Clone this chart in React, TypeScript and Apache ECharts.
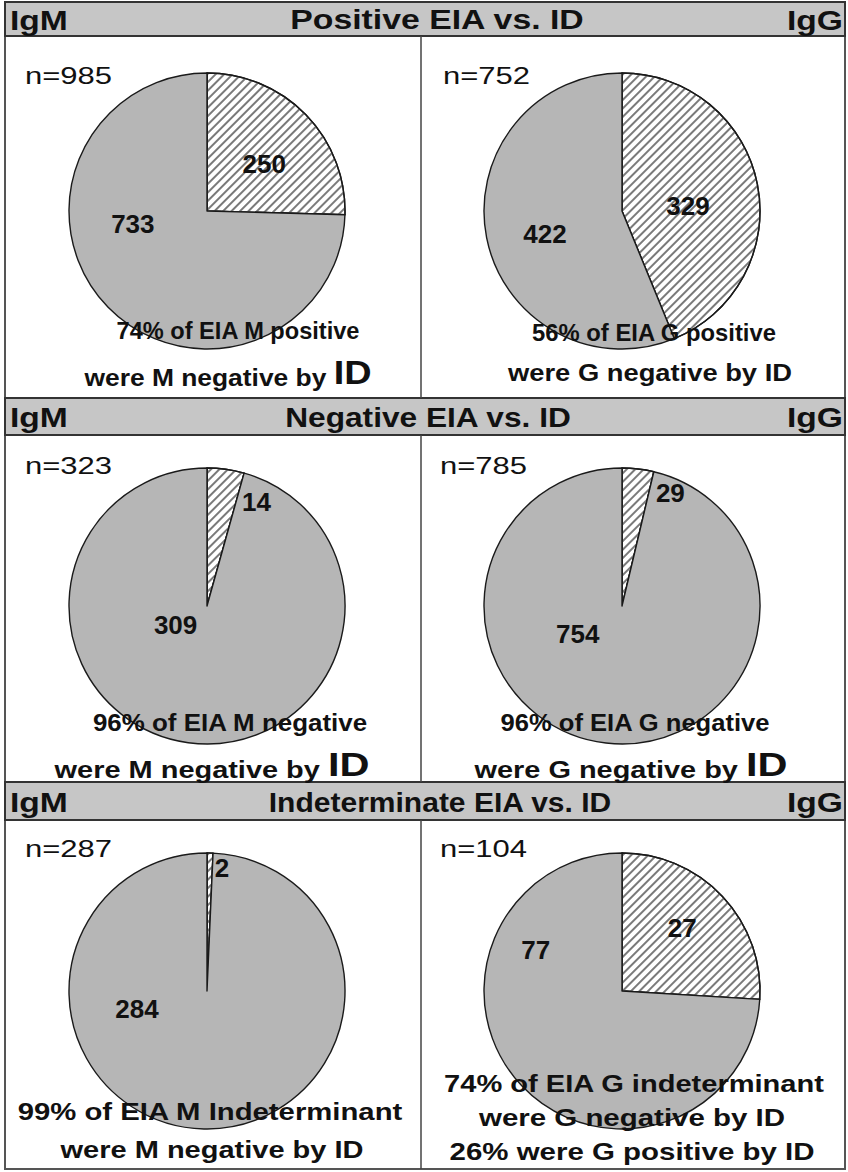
import React, { useEffect, useRef } from 'react';
import * as echarts from 'echarts';

const W = 848;
const H = 1172;

// ---------- data ----------
const sectionTitles = ['Positive EIA vs. ID', 'Negative EIA vs. ID', 'Indeterminate EIA vs. ID'];
const leftTag = 'IgM';
const rightTag = 'IgG';
const totals = [985, 752, 323, 785, 287, 104];
const positiveById = [250, 329, 14, 29, 2, 27]; // hatched slices
const negativeById = [733, 422, 309, 754, 284, 77]; // gray slices
const captionTexts = [
  ['74% of EIA M positive', 'were M negative by ', 'ID'],
  ['56% of EIA G positive', 'were G negative by ID'],
  ['96% of EIA M negative', 'were M negative by ', 'ID'],
  ['96% of EIA G negative', 'were G negative by ', 'ID'],
  ['99% of EIA M Indeterminant', 'were M negative by ID'],
  ['74% of EIA G indeterminant', 'were G negative by ID', '26% were G positive by ID'],
];
const bigIdPanels = [true, false, true, true, false, false];

// ---------- layout ----------
const FONT = '"Liberation Sans", Arial, Helvetica, sans-serif';
const colX = [207, 622];
const rowY = [211, 606, 991];
const R = 138;
const bands = [[2, 36], [398, 435], [782, 820]];
const dividerX = 421;
const titleCenters = [437, 428, 440];
const titleWidths = [295, 287, 344];
const nPos = [[25, 76], [443, 76], [25, 466], [440, 466], [25, 849], [440, 849]];
// label anchor offsets from pie center [hatched, gray]
const labelRel = [
  [[55, -45], [-72, 11]],
  [[63, -4], [-74, 22]],
  [[49, -101], [-31, 16]],
  [[48, -110], [-44, 25]],
  [[15, -120], [-70, 15]],
  [[58, -61], [-84, -43]],
];
// caption lines: [centerX, centerY, targetWidth]
const captionLayout = [
  [[238, 331, 244], [228, 373, 287]],
  [[654, 333, 245], [650, 373, 284]],
  [[230, 723, 275], [212, 765, 315]],
  [[635, 723, 270], [631, 765, 313]],
  [[210, 1112, 386], [212, 1150, 303]],
  [[634, 1084, 381], [632, 1118, 306], [632, 1152, 365]],
];
const captionSize = [23, 23, 23, 23, 24, 24];

let measureCtx: CanvasRenderingContext2D | null = null;
function measure(text: string, size: number, bold: boolean) {
  if (!measureCtx) measureCtx = document.createElement('canvas').getContext('2d');
  measureCtx!.font = `${bold ? 'bold ' : ''}${size}px ${FONT}`;
  return measureCtx!.measureText(text).width;
}

export default function App() {
  const ref = useRef<HTMLDivElement>(null);
  useEffect(() => {
    document.body.style.margin = '0';
    const chart = echarts.init(ref.current!, undefined, { renderer: 'svg', width: W, height: H });

    const hatch = {
      symbol: 'rect',
      symbolSize: 1,
      dashArrayX: [1, 0],
      dashArrayY: [1.1, 3.6],
      rotation: -Math.PI / 4,
      color: '#7a7a7a',
    };

    const series: any[] = [];
    for (let p = 0; p < 6; p++) {
      const cx = colX[p % 2];
      const cy = rowY[Math.floor(p / 2)];
      const vals = [positiveById[p], negativeById[p]];
      const sum = vals[0] + vals[1];
      let acc = 0;
      const data = vals.map((v, k) => {
        const mid = -Math.PI / 2 + 2 * Math.PI * (acc + v / 2) / sum;
        acc += v;
        const ix = cx + Math.cos(mid) * R / 2;
        const iy = cy + Math.sin(mid) * R / 2;
        const [rx, ry] = labelRel[p][k];
        return {
          value: v,
          itemStyle: k === 0 ? { color: '#ffffff', decal: hatch } : { color: '#b6b6b6' },
          label: { offset: [cx + rx - ix, cy + ry - iy] },
        };
      });
      series.push({
        type: 'pie',
        center: [cx, cy],
        radius: R,
        startAngle: 90,
        clockwise: true,
        silent: true,
        emphasis: { disabled: true },
        label: {
          show: true,
          position: 'inside',
          formatter: '{c}',
          fontSize: 26,
          fontWeight: 'bold',
          fontFamily: FONT,
          color: '#111',
        },
        labelLine: { show: false },
        itemStyle: { borderColor: '#1a1a1a', borderWidth: 1.4 },
        data,
      });
    }

    const g: any[] = [];
    // frame
    g.push({ type: 'rect', shape: { x: 5, y: 2, width: 840, height: 1167 }, style: { fill: '#fff', stroke: '#555', lineWidth: 2 }, z: -10 });
    bands.forEach(([y0, y1], i) => {
      g.push({ type: 'rect', shape: { x: 5, y: y0, width: 840, height: y1 - y0 }, style: { fill: '#c6c6c6', stroke: '#333', lineWidth: 2 }, z: -5 });
      const yText = (y0 + y1) / 2 + 1;
      const tagScale = 1.2;
      g.push({ type: 'text', x: 10, y: yText, scaleX: tagScale, z: 50, style: { text: leftTag, font: `bold 28px ${FONT}`, fill: '#111', align: 'left', verticalAlign: 'middle' } });
      g.push({ type: 'text', x: 843, y: yText, scaleX: tagScale, z: 50, style: { text: rightTag, font: `bold 28px ${FONT}`, fill: '#111', align: 'right', verticalAlign: 'middle' } });
      const tw = measure(sectionTitles[i], 28, true);
      g.push({ type: 'text', x: titleCenters[i], y: yText, scaleX: titleWidths[i] / tw, z: 50, style: { text: sectionTitles[i], font: `bold 28px ${FONT}`, fill: '#111', align: 'center', verticalAlign: 'middle' } });
      // divider below band
      const nextTop = i < 2 ? bands[i + 1][0] : 1169;
      g.push({ type: 'line', shape: { x1: dividerX, y1: y1, x2: dividerX, y2: nextTop }, style: { stroke: '#444', lineWidth: 1.5 }, z: -4 });
    });
    // n labels
    totals.forEach((n, p) => {
      const t = `n=${n}`;
      const w = measure(t, 24, false);
      g.push({ type: 'text', x: nPos[p][0], y: nPos[p][1], scaleX: 87 / w, z: 50, style: { text: t, font: `24px ${FONT}`, fill: '#111', align: 'left', verticalAlign: 'middle' } });
    });
    // captions
    captionTexts.forEach((lines, p) => {
      const size = captionSize[p];
      const layout = captionLayout[p];
      const hasBig = bigIdPanels[p];
      const lineTexts = hasBig ? [lines[0], lines[1] + lines[2]] : lines;
      lineTexts.forEach((_, li) => {
        const [cx, cy, tw] = layout[li];
        let styleObj: any;
        let mw: number;
        if (hasBig && li === 1) {
          const big = Math.round(size * 1.45);
          mw = measure(lines[1], size, true) + measure(lines[2], big, true);
          styleObj = {
            text: `{a|${lines[1]}}{b|${lines[2]}}`,
            rich: {
              a: { fontSize: size, fontWeight: 'bold', fontFamily: FONT, fill: '#111', verticalAlign: 'bottom' },
              b: { fontSize: big, fontWeight: 'bold', fontFamily: FONT, fill: '#111', verticalAlign: 'bottom' },
            },
            align: 'center',
            verticalAlign: 'middle',
          };
        } else {
          mw = measure(lineTexts[li], size, true);
          styleObj = { text: lineTexts[li], font: `bold ${size}px ${FONT}`, fill: '#111', align: 'center', verticalAlign: 'middle' };
        }
        g.push({ type: 'text', x: cx, y: cy, scaleX: tw / mw, z: 100, style: styleObj });
      });
    });

    chart.setOption({
      animation: false,
      backgroundColor: '#ffffff',
      series,
      graphic: { elements: g },
    });
    return () => chart.dispose();
  }, []);
  return <div ref={ref} style={{ position: 'absolute', left: 0, top: 0, width: W, height: H }} />;
}
